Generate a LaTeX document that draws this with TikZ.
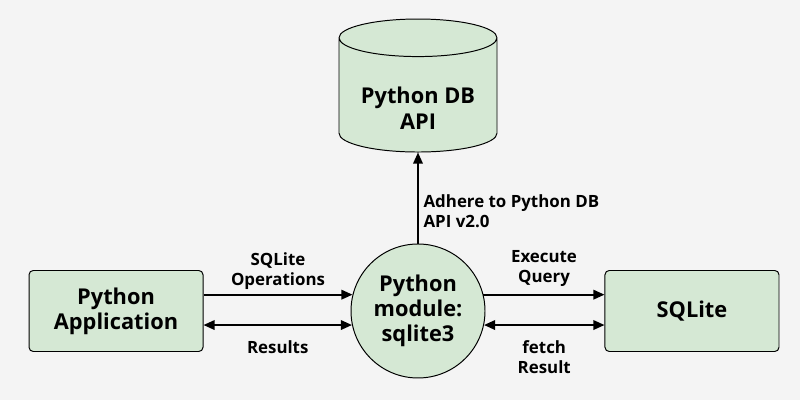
\documentclass[tikz,border=0pt]{standalone}
\usepackage{fontspec}
\setmainfont{Open Sans}
\usetikzlibrary{positioning, shapes.geometric, arrows.meta}
\definecolor{boxgreen}{HTML}{D5E8D4}
\definecolor{bggray}{HTML}{F4F4F4}

\begin{document}
\begin{tikzpicture}[
      node distance=1.0cm,
      nodefont/.style={font=\fontsize{15.5}{18}\selectfont\bfseries},
      block/.style={rectangle, draw, rounded corners=3pt, align=center,
        minimum width=4.35cm, minimum height=2.025cm, fill=boxgreen,
        line width=0.7pt, nodefont},
      module/.style={circle, draw, align=center, minimum size=3.35cm,
        inner sep=0pt, fill=boxgreen, line width=0.7pt, nodefont},
      dbase/.style={cylinder, shape border rotate=90, aspect=0.32, draw,
        minimum width=3.95cm, minimum height=3.325cm, text width=2.7cm,
        fill=boxgreen, line width=0.7pt},
      lbl/.style={font=\fontsize{12}{14.2}\selectfont\bfseries, align=center},
      arrow/.style={-{Triangle[length=2.8mm, width=2.4mm]}, line width=1.3pt},
      biarrow/.style={{Triangle[length=2.8mm, width=2.4mm]}-{Triangle[length=2.8mm, width=2.4mm]},
        line width=1.3pt}
    ]
    \fill[bggray] (0,0) rectangle (20,-10);

    \node[module] (mod) at (10.45,-7.775) {Python\\module:\\sqlite3};
    \node[block, left=3.675cm of mod] (app) {Python\\Application};
    \node[block, right=2.975cm of mod] (sql) {SQLite};
    \node[dbase, above=2.275cm of mod,
      label={[nodefont, align=center, yshift=-0.25cm]center:Python DB\\API}] (api) {};

    \draw[arrow] (mod) -- node[lbl, pos=0.36, right, align=left] {Adhere to Python DB\\API v2.0} (api);
    \draw[arrow] (app.east |- mod.166) -- node[lbl, above=0pt] {SQLite\\Operations} (mod.166);
    \draw[biarrow] (app.east |- mod.192) -- node[lbl, below=7pt] {Results} (mod.192);
    \draw[arrow] (mod.14) -- node[lbl, above=2pt] {Execute\\Query} (mod.14 -| sql.west);
    \draw[biarrow] (mod.348) -- node[lbl, below=7pt] {fetch\\Result} (mod.348 -| sql.west);
  \end{tikzpicture}
\end{document}
